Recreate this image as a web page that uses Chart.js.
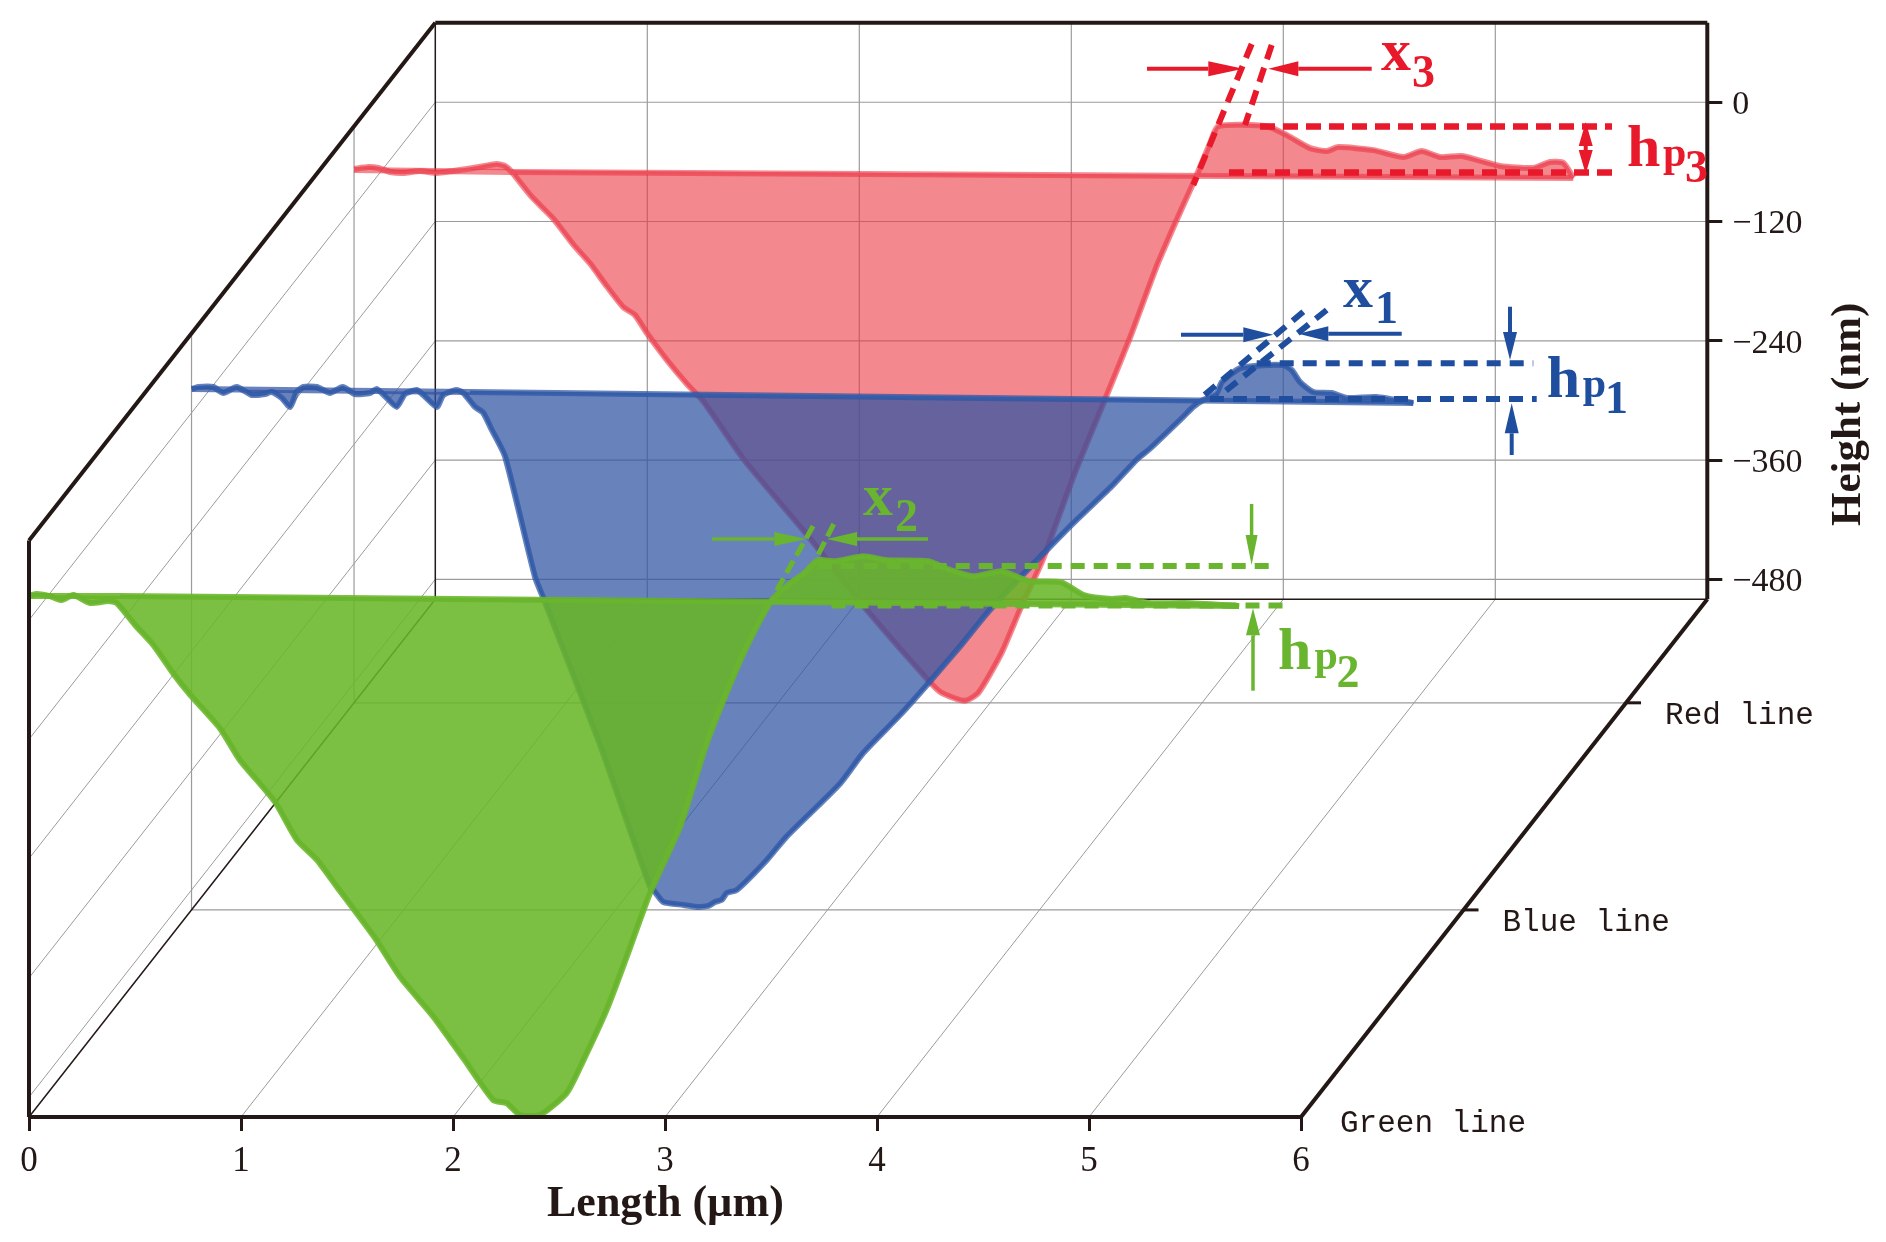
<!DOCTYPE html>
<html>
<head>
<meta charset="utf-8">
<title>Height profiles</title>
<script src="https://cdn.jsdelivr.net/npm/chart.js@4/dist/chart.umd.min.js"></script>
<style>
  html, body { margin: 0; padding: 0; background: #fff; }
  canvas { display: block; }
</style>
</head>
<body>
<canvas id="chart" width="1886" height="1242"></canvas>
<script>
const xTicks = [0, 1, 2, 3, 4, 5, 6];
const yTicks = [0, -120, -240, -360, -480];
const seriesNames = ["Green line", "Blue line", "Red line"];
const seriesDepths = [0, 0.4, 0.8];

const greenLength = [0.009, 0.036, 0.099, 0.154, 0.209, 0.288, 0.374, 0.414, 0.5, 0.586, 0.681, 0.759, 0.901, 0.995, 1.16, 1.263, 1.357, 1.451, 1.632, 1.75, 1.907, 2.049, 2.19, 2.253, 2.316, 2.41, 2.536, 2.615, 2.725, 2.819, 2.929, 3.071, 3.197, 3.322, 3.401, 3.504, 3.591, 3.656, 3.72, 3.807, 3.937, 4.045, 4.24, 4.349, 4.457, 4.587, 4.717, 4.868, 4.976, 5.107, 5.172, 5.28, 5.453, 5.708];
const greenHeight = [25, 26, 24, 20, 25, 17, 19, 17, -5, -25, -54, -75, -109, -141, -183, -221, -241, -268, -320, -359, -399, -441, -483, -486, -498, -498, -476, -443, -392, -339, -275, -208, -124, -57, -20, 20, 37, 47, 60, 59, 64, 60, 59, 50, 44, 49, 39, 38, 25, 21, 22, 17, 17, 14];

const blueLength = [0.001, 0.032, 0.103, 0.15, 0.213, 0.284, 0.347, 0.378, 0.425, 0.465, 0.496, 0.527, 0.591, 0.653, 0.713, 0.771, 0.842, 0.874, 0.921, 0.968, 1.007, 1.062, 1.093, 1.157, 1.188, 1.248, 1.282, 1.337, 1.376, 1.416, 1.479, 1.62, 1.661, 1.927, 2.163, 2.186, 2.225, 2.32, 2.383, 2.438, 2.469, 2.501, 2.525, 2.572, 2.713, 2.808, 3.059, 3.169, 3.342, 3.468, 3.625, 3.767, 4.145, 4.34, 4.459, 4.521, 4.678, 4.725, 4.773, 4.836, 4.86, 4.946, 5.056, 5.15, 5.19, 5.229, 5.292, 5.378, 5.45, 5.59, 5.763];
const blueHeight = [24, 26, 26, 20, 26, 18, 19, 21, 15, 6, 21, 26, 26, 20, 26, 19, 20, 24, 15, 6, 19, 23, 18, 6, 18, 23, 20, 6, 0, -17, -44, -165, -187, -334, -477, -482, -492, -495, -497, -496, -492, -490, -483, -480, -450, -426, -373, -342, -304, -274, -235, -198, -114, -74, -47, -36, -4, 6, 13, 20, 31, 45, 48, 48, 43, 31, 21, 20, 15, 16, 10];

const redLength = [0, 0.067, 0.115, 0.17, 0.233, 0.311, 0.39, 0.468, 0.563, 0.673, 0.712, 0.744, 0.838, 0.94, 1.034, 1.113, 1.192, 1.27, 1.325, 1.381, 1.475, 1.569, 1.648, 1.841, 2.144, 2.404, 2.707, 2.772, 2.881, 2.945, 3.054, 3.14, 3.249, 3.4, 3.519, 3.66, 3.786, 3.881, 3.959, 3.991, 4.038, 4.077, 4.305, 4.4, 4.509, 4.588, 4.643, 4.808, 4.95, 5.036, 5.123, 5.225, 5.406, 5.563, 5.642, 5.705, 5.751];
const redHeight = [37, 39, 38, 34, 33, 35, 33, 35, 38, 42, 40, 34, 9, -13, -39, -58, -81, -102, -110, -128, -155, -179, -197, -256, -333, -403, -477, -490, -498, -490, -450, -407, -356, -269, -207, -133, -61, -14, 23, 39, 63, 80, 80, 71, 58, 55, 59, 56, 49, 55, 49, 50, 40, 38, 44, 43, 28];

// surface level of each line: line start, groove start, line end
const greenBaseLength = [0.009, 0.429, 5.708];
const greenBaseHeight = [24, 24, 14];
const blueBaseLength = [0.001, 1.314, 5.763];
const blueBaseHeight = [24, 21, 10];
const redBaseLength = [0, 0.744, 5.751];
const redBaseHeight = [36, 34, 28];

// the fake 3d box: how far the back wall sits from the front, in axis units
const depthShiftX = 1.9165;
const depthShiftY = 520.8;
const wallTop = 80;
const wallBottom = -500;

const ink = "#231815";
const gridGrey = "#9b9b9b";
const serif = '"Liberation Serif"';

function project(length, height, depth) {
  return { x: length + depth * depthShiftX, y: height - (1 - depth) * depthShiftY };
}

function toPoints(lengths, heights, depth) {
  return lengths.map((l, i) => project(l, heights[i], depth));
}

function lineDataset(data, color, width, fillColor, tension) {
  return {
    data,
    showLine: true,
    borderColor: color,
    borderWidth: width,
    backgroundColor: fillColor || "transparent",
    fill: fillColor ? "shape" : false,
    pointRadius: 0,
    tension: tension || 0,
    borderJoinStyle: "round",
    borderCapStyle: "butt",
  };
}

function seriesDatasets(lengths, heights, baseLengths, baseHeights, depth, core, soft) {
  const profile = toPoints(lengths, heights, depth);
  const base = toPoints(baseLengths, baseHeights, depth);
  return [
    lineDataset(profile, core, 2.6, null, 0.2),
    lineDataset(base.slice(1), core, 2.6),
    lineDataset(base, soft, 6),
    lineDataset(profile, soft, 6, soft, 0.2),
  ];
}

// first dataset ends up on top
const datasets = [
  ...seriesDatasets(greenLength, greenHeight, greenBaseLength, greenBaseHeight, seriesDepths[0], "#6ab52f", "rgba(105,182,41,0.88)"),
  ...seriesDatasets(blueLength, blueHeight, blueBaseLength, blueBaseHeight, seriesDepths[1], "#335eaa", "rgba(48,84,163,0.73)"),
  ...seriesDatasets(redLength, redHeight, redBaseLength, redBaseHeight, seriesDepths[2], "#ee5060", "rgba(235,57,67,0.6)"),
];

function segment(ctx, a, b, color, width, dash) {
  ctx.save();
  ctx.beginPath();
  ctx.strokeStyle = color;
  ctx.lineWidth = width;
  ctx.setLineDash(dash || []);
  ctx.moveTo(a[0], a[1]);
  ctx.lineTo(b[0], b[1]);
  ctx.stroke();
  ctx.restore();
}

function arrow(ctx, from, tip, headLength, halfWidth, color, width) {
  const dx = tip[0] - from[0];
  const dy = tip[1] - from[1];
  const len = Math.hypot(dx, dy);
  const ux = dx / len;
  const uy = dy / len;
  const bx = tip[0] - ux * headLength;
  const by = tip[1] - uy * headLength;
  segment(ctx, from, [bx, by], color, width);
  ctx.save();
  ctx.fillStyle = color;
  ctx.beginPath();
  ctx.moveTo(tip[0], tip[1]);
  ctx.lineTo(bx - uy * halfWidth, by + ux * halfWidth);
  ctx.lineTo(bx + uy * halfWidth, by - ux * halfWidth);
  ctx.closePath();
  ctx.fill();
  ctx.restore();
}

function label(ctx, text, x, y, font, color) {
  ctx.save();
  ctx.font = font;
  ctx.fillStyle = color;
  ctx.textAlign = "left";
  ctx.textBaseline = "alphabetic";
  ctx.fillText(text, x, y);
  ctx.restore();
}

const bigFont = `bold 60px ${serif}`;
const midFont = `bold 42px ${serif}`;
const subFont = `bold 46px ${serif}`;

const boxGrid = {
  id: "boxGrid",
  beforeDatasetsDraw(chart) {
    const { ctx, scales } = chart;
    const at = (l, h, d) => {
      const p = project(l, h, d);
      return [scales.x.getPixelForValue(p.x), scales.y.getPixelForValue(p.y)];
    };
    xTicks.slice(1, -1).forEach((l) => {
      segment(ctx, at(l, wallTop, 1), at(l, wallBottom, 1), gridGrey, 1.2);
      segment(ctx, at(l, wallBottom, 1), at(l, wallBottom, 0), gridGrey, 1);
    });
    yTicks.forEach((h) => {
      segment(ctx, at(0, h, 1), at(6, h, 1), gridGrey, 1.2);
      segment(ctx, at(0, h, 1), at(0, h, 0), gridGrey, 1);
    });
    seriesDepths.slice(1).forEach((d) => {
      segment(ctx, at(0, wallTop, d), at(0, wallBottom, d), gridGrey, 1.2);
      segment(ctx, at(0, wallBottom, d), at(6, wallBottom, d), gridGrey, 1.2);
    });
    segment(ctx, at(0, wallTop, 1), at(0, wallBottom, 1), ink, 1.5);
    segment(ctx, at(0, wallBottom, 1), at(6, wallBottom, 1), ink, 1.5);
    segment(ctx, at(0, wallBottom, 0), at(0, wallBottom, 1), ink, 1.5);
  },
  afterDatasetsDraw(chart) {
    const { ctx, scales } = chart;
    const at = (l, h, d) => {
      const p = project(l, h, d);
      return [scales.x.getPixelForValue(p.x), scales.y.getPixelForValue(p.y)];
    };
    const frame = [
      [at(0, wallTop, 0), at(0, wallBottom, 0)],
      [at(0, wallTop, 0), at(0, wallTop, 1)],
      [at(0, wallTop, 1), at(6, wallTop, 1)],
      [at(6, wallTop, 1), at(6, wallBottom, 1)],
      [at(6, wallBottom, 1), at(6, wallBottom, 0)],
      [at(6, wallBottom, 0), at(0, wallBottom, 0)],
    ];
    frame.forEach(([a, b]) => segment(ctx, a, b, ink, 4));

    const labelDrop = [15, 21, 21];
    seriesNames.forEach((name, i) => {
      const p = at(6, wallBottom, seriesDepths[i]);
      if (seriesDepths[i] > 0) {
        segment(ctx, p, [p[0] + 15, p[1]], ink, 3);
      }
      label(ctx, name, p[0] + 39, p[1] + labelDrop[i], '31px "Liberation Mono"', ink);
    });

    label(ctx, "Length (µm)", 547, 1215.5, `bold 44px ${serif}`, ink);
    ctx.save();
    ctx.translate(1860, 526);
    ctx.rotate(-Math.PI / 2);
    label(ctx, "Height (nm)", 0, 0, `bold 43px ${serif}`, ink);
    ctx.restore();

    // red call-outs
    const red = "#e8192a";
    const redDash = [15, 8];
    segment(ctx, [1251.7, 44], [1193.3, 185], red, 6, [15, 9]);
    segment(ctx, [1271.7, 45], [1245, 125], red, 6, [15, 9]);
    segment(ctx, [1260, 126.5], [1612, 126.5], red, 6.5, redDash);
    segment(ctx, [1229, 172.5], [1612, 172.5], red, 6.5, redDash);
    arrow(ctx, [1147, 68.7], [1243.3, 68.7], 35, 7.5, red, 4);
    arrow(ctx, [1371.7, 68.7], [1268.3, 68.7], 30, 7.5, red, 4);
    arrow(ctx, [1585.7, 148], [1585.7, 122], 24, 7, red, 4);
    arrow(ctx, [1585.7, 148], [1585.7, 174], 24, 7, red, 4);
    label(ctx, "x", 1381, 70, bigFont, red);
    label(ctx, "3", 1412, 86.5, subFont, red);
    label(ctx, "h", 1627, 166, bigFont, red);
    label(ctx, "p", 1663, 166, midFont, red);
    label(ctx, "3", 1685, 182, subFont, red);

    // blue call-outs
    const blue = "#1f4e9f";
    const blueDash = [14, 9];
    segment(ctx, [1303.3, 311.7], [1203.3, 396], blue, 6, blueDash);
    segment(ctx, [1326.7, 310], [1218.3, 396.7], blue, 6, blueDash);
    segment(ctx, [1256.7, 363.3], [1533.3, 363.3], blue, 6, blueDash);
    segment(ctx, [1210, 399], [1536.7, 399], blue, 6, blueDash);
    arrow(ctx, [1181, 334.7], [1273.3, 334.7], 30, 7.5, blue, 4);
    arrow(ctx, [1401.7, 333.7], [1298.3, 333.7], 30, 7.5, blue, 4);
    arrow(ctx, [1510, 306.7], [1510, 360], 28, 7, blue, 4);
    arrow(ctx, [1511.7, 455], [1511.7, 403.3], 30, 7, blue, 4);
    label(ctx, "x", 1343, 306.7, bigFont, blue);
    label(ctx, "1", 1375, 322.7, subFont, blue);
    label(ctx, "h", 1546.7, 397.3, bigFont, blue);
    label(ctx, "p", 1582.7, 397, midFont, blue);
    label(ctx, "1", 1605, 413.3, subFont, blue);

    // green call-outs
    const green = "#6ab52f";
    const greenDash = [14, 9];
    segment(ctx, [813.1, 526], [774, 595], green, 5, [14, 6]);
    segment(ctx, [833.8, 524], [815.4, 560], green, 5, [14, 6]);
    segment(ctx, [817.7, 566], [1272.3, 566], green, 6, greenDash);
    segment(ctx, [831.5, 605.5], [1283.8, 605.5], green, 6, greenDash);
    arrow(ctx, [712, 539], [806.3, 539], 32, 7, green, 3.5);
    arrow(ctx, [928, 539], [827, 539], 30, 7, green, 3.5);
    arrow(ctx, [1251.6, 504], [1251.6, 565], 30, 6, green, 3.5);
    arrow(ctx, [1253, 690.7], [1253, 608.3], 27, 7, green, 3.5);
    label(ctx, "x", 863, 515, bigFont, green);
    label(ctx, "2", 895, 530.7, subFont, green);
    label(ctx, "h", 1278, 669.3, bigFont, green);
    label(ctx, "p", 1314.5, 669, midFont, green);
    label(ctx, "2", 1336.6, 686.7, subFont, green);
  },
};

new Chart(document.getElementById("chart"), {
  type: "scatter",
  data: { datasets },
  plugins: [boxGrid],
  options: {
    responsive: false,
    animation: false,
    events: [],
    layout: { padding: { left: 29, top: 22.7, right: 0, bottom: 0 } },
    plugins: { legend: { display: false }, tooltip: { enabled: false } },
    scales: {
      x: {
        type: "linear",
        min: 0,
        max: 6 + depthShiftX,
        afterBuildTicks: (scale) => { scale.ticks = xTicks.map((value) => ({ value })); },
        afterFit: (scale) => {
          scale.height = 125;
          scale.paddingLeft = 0;
          scale.paddingRight = 0;
        },
        border: { display: false },
        grid: { drawOnChartArea: false, tickLength: 14, tickWidth: 3, tickColor: ink },
        ticks: {
          autoSkip: false,
          maxRotation: 0,
          padding: 10,
          color: ink,
          font: { family: "Liberation Serif", size: 35 },
        },
      },
      y: {
        type: "linear",
        position: "right",
        min: wallBottom - depthShiftY,
        max: wallTop,
        afterBuildTicks: (scale) => { scale.ticks = yTicks.map((value) => ({ value })); },
        afterFit: (scale) => {
          scale.width = 178.7;
          scale.paddingTop = 0;
          scale.paddingBottom = 0;
        },
        border: { display: false },
        grid: { drawOnChartArea: false, tickLength: 15, tickWidth: 3, tickColor: ink },
        ticks: {
          autoSkip: false,
          padding: 10,
          labelOffset: 3,
          color: ink,
          font: { family: "Liberation Serif", size: 34 },
          callback: (v) => (v < 0 ? "−" + Math.abs(v) : String(v)),
        },
      },
    },
  },
});
</script>
</body>
</html>
